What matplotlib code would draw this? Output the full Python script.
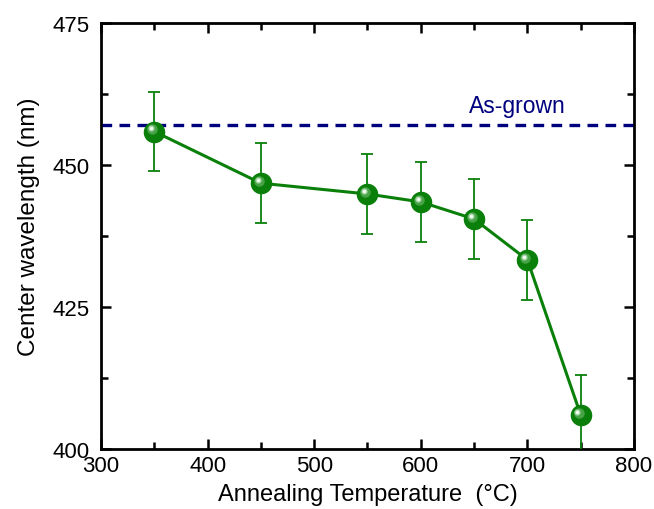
import matplotlib
matplotlib.use("Agg")
import matplotlib.pyplot as plt
from matplotlib.ticker import MultipleLocator
from matplotlib.transforms import offset_copy

plt.rcParams['font.family'] = ['Liberation Sans', 'DejaVu Sans']

temperature = [350, 450, 550, 600, 650, 700, 750]
wavelength = [455.9, 446.8, 444.9, 443.5, 440.5, 433.3, 406.0]
wavelength_err = [7, 7, 7, 7, 7, 7, 7]
as_grown = 457.0

green = '#0a800a'
navy = '#00007f'

fig = plt.figure(figsize=(6.54, 5.10), dpi=100)
ax = fig.add_axes([0.1544, 0.1176, 0.8150, 0.8353])

ax.axhline(as_grown, color=navy, lw=2.4, ls=(0, (3.2, 2.2)), zorder=1)
ax.text(691, 459.3, 'As-grown', color=navy, fontsize=16.5,
        ha='center', va='baseline')

ax.errorbar(temperature, wavelength, yerr=wavelength_err, color=green,
            lw=2.2, elinewidth=1.3, capsize=4.5, capthick=1.3,
            marker='o', ms=14.5, mfc=green, mec=green, zorder=3)

# glossy sphere highlight on each marker
hl1 = offset_copy(ax.transData, fig=fig, x=-1.5, y=1.5, units='points')
hl2 = offset_copy(ax.transData, fig=fig, x=-2.3, y=2.3, units='points')
ax.plot(temperature, wavelength, ls='none', marker='o', ms=7.5,
        mfc='#4fa84f', mec='none', alpha=0.9, transform=hl1, zorder=4)
ax.plot(temperature, wavelength, ls='none', marker='o', ms=4.5,
        mfc='#9fd49f', mec='none', transform=hl2, zorder=5)
ax.plot(temperature, wavelength, ls='none', marker='o', ms=2.5,
        mfc='#f4fbf4', mec='none', transform=hl2, zorder=6)

ax.set_xlim(300, 800)
ax.set_ylim(400, 475)
ax.xaxis.set_major_locator(MultipleLocator(100))
ax.xaxis.set_minor_locator(MultipleLocator(50))
ax.yaxis.set_major_locator(MultipleLocator(25))
ax.yaxis.set_minor_locator(MultipleLocator(12.5))
ax.tick_params(which='both', direction='in', top=True, right=True,
               width=1.8, labelsize=16)
ax.tick_params(axis='x', which='both', pad=4)
ax.tick_params(axis='y', which='both', pad=8)
ax.tick_params(which='major', length=7.5)
ax.tick_params(which='minor', length=5)
for s in ax.spines.values():
    s.set_linewidth(2.0)

ax.set_xlabel('Annealing Temperature  (°C)', fontsize=17, labelpad=5)
ax.set_ylabel('Center wavelength (nm)', fontsize=17.5)
ax.yaxis.set_label_coords(-0.115, 0.525)

fig.savefig('out.png', dpi=100)
